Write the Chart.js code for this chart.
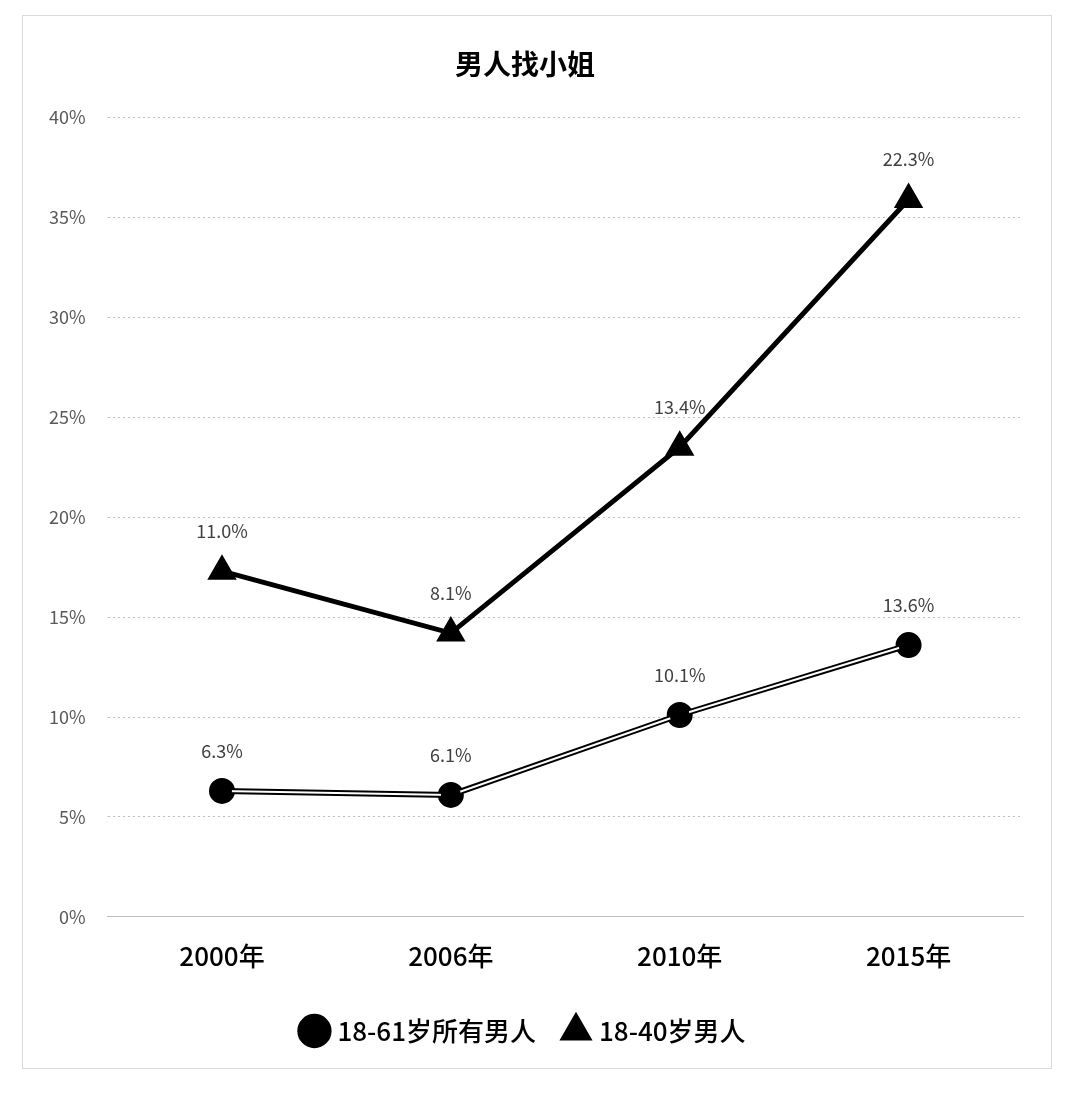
<!DOCTYPE html>
<html><head><meta charset="utf-8">
<script src="https://cdn.jsdelivr.net/npm/chart.js@4"></script>
<style>
body{margin:0;background:#fff;font-family:"Noto Sans CJK SC","Noto Sans",sans-serif}
#box{position:absolute;left:22px;top:15px;width:1030px;height:1054px;border:1px solid #d9d9d9;box-sizing:border-box}
</style></head><body>
<div id="box"><canvas id="c"></canvas></div>
<script>
const categories=["2000年","2006年","2010年","2015年"];
const allMen=[6.3,6.1,10.1,13.6];
const youngMen=[11.0,8.1,13.4,22.3];
const yTicks=[0,5,10,15,20,25,30,35,40];
const seriesNames=["18-61岁所有男人","18-40岁男人"];
const F='"Noto Sans CJK SC","Noto Sans",sans-serif';

const doubleLine={id:'doubleLine',afterDatasetDraw(chart,args){
  if(args.index!==0)return;
  const pts=chart.getDatasetMeta(0).data,ctx=chart.ctx;
  ctx.save();ctx.strokeStyle='#fff';ctx.lineWidth=2;ctx.beginPath();
  pts.forEach((p,i)=>i?ctx.lineTo(p.x,p.y):ctx.moveTo(p.x,p.y));
  ctx.stroke();
  pts.forEach(p=>{ctx.fillStyle='#000';ctx.beginPath();ctx.arc(p.x,p.y,10,0,Math.PI*2);ctx.fill();});
  ctx.restore();
}};
const labels={id:'labels',afterDatasetsDraw(chart){
  const ctx=chart.ctx;ctx.save();ctx.font='18px '+F;ctx.fillStyle='#404040';ctx.textAlign='center';ctx.textBaseline='middle';
  chart.data.datasets.forEach((ds,di)=>{
    chart.getDatasetMeta(di).data.forEach((p,i)=>{ctx.fillText(ds.data[i].toFixed(1)+'%',p.x,p.y-40);});
  });ctx.restore();
}};
new Chart(document.getElementById('c'),{
  type:'line',
  data:{labels:categories,datasets:[
    {label:seriesNames[0],data:allMen,borderColor:'#000',borderWidth:6,backgroundColor:'#000',pointStyle:'circle',pointRadius:10,pointBackgroundColor:'#000',tension:0},
    {label:seriesNames[1],data:youngMen,borderColor:'#000',borderWidth:5,backgroundColor:'#000',pointStyle:'triangle',pointRadius:12,pointBackgroundColor:'#000',tension:0}
  ]},
  options:{responsive:true,maintainAspectRatio:false,animation:false,
    layout:{padding:{left:4,right:28,top:10,bottom:14}},
    plugins:{
      title:{display:true,text:'男人找小姐',font:{family:F,size:28,weight:'bold'},color:'#000',padding:{top:22,bottom:36}},
      legend:{position:'bottom',labels:{usePointStyle:true,font:{family:F,size:26,weight:'500'},color:'#000',padding:30,boxWidth:20,boxHeight:20}},
      tooltip:{enabled:false}
    },
    scales:{
      x:{offset:true,grid:{display:false},border:{color:'#bfbfbf'},ticks:{font:{family:F,size:26,weight:'500'},color:'#000',padding:16}},
      y:{stacked:true,min:0,max:40,grid:{color:'#bfbfbf',tickLength:0},border:{display:false,dash:[2,3]},
        afterBuildTicks(s){s.ticks=yTicks.map(v=>({value:v}));},
        ticks:{font:{family:F,size:18},color:'#595959',padding:22,callback:v=>v+'%'}}
    }
  },
  plugins:[doubleLine,labels]
});
</script></body></html>
